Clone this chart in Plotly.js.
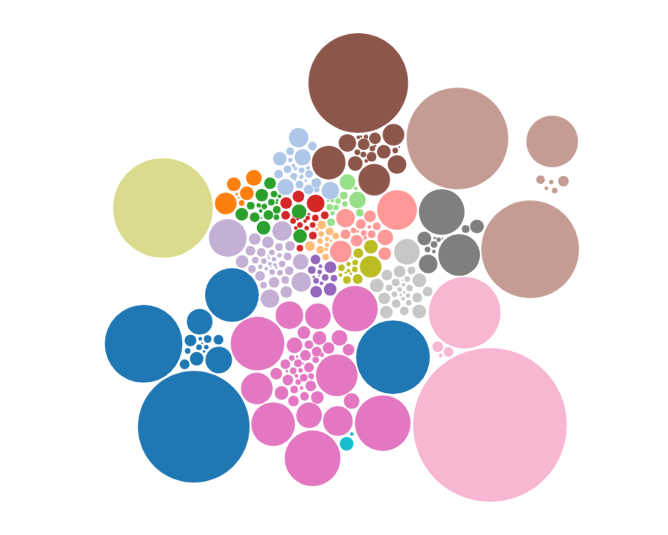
<!DOCTYPE html>
<html><head><meta charset="utf-8">
<script src="https://cdn.plot.ly/plotly-3.0.1.min.js"></script>
<style>html,body{margin:0;padding:0;background:#fff}</style>
</head><body><div id="chart" style="width:668px;height:535px"></div>
<script>
const blueValues = [3136,1521,729,182,169,49,36,25,25,16,9,9,6,4,2,1];
const lightBlueValues = [100,81,69,69,49,25,25,20,20,16,16,16,16,12,9,9,6,6,4,4,4,2,2,2,1];
const orangeValues = [121,64,49,49,9,2,1];
const lightOrangeValues = [25,20,16,16,12,12,9,9,6,6,4,4,2,1];
const greenValues = [56,49,49,42,42,36,25,25,16,16,12,12,9,9,6,4,4,2,2,1];
const lightGreenValues = [72,64,16,16,16,12,9,9,9,6,4,4,2,1];
const redValues = [81,36,36,20,16,16,12,12,9,9,9,6,6,4,4,2,2,1];
const lightRedValues = [400,121,90,64,42,36,36,25,25,16,16,9,9,4,4,2,1];
const purpleValues = [42,36,36,25,16,12,12,9,6,4,4,2,1];
const lightPurpleValues = [361,100,100,90,64,42,36,36,36,30,25,25,25,20,20,16,16,16,16,12,12,12,9,9,9,9,6,6,6,4,4,4,2,2,1,1];
const brownValues = [2500,289,256,121,90,81,56,49,36,36,25,9,9,9,9,6,4,4,2,2,1];
const roseValues = [2601,2401,676,30,20,9,6,4];
const pinkValues = [784,784,729,529,484,441,256,225,196,169,169,64,64,64,49,49,42,42,36,36,36,30,30,30,30,25,25,25,20,20,16,16,16,12,12,9,9,9,6,6,4,4,4,2,2,1,1];
const lightPinkValues = [5929,1296,30,25,4];
const grayValues = [529,441,90,49,49,16,12,9,6,4,2,1];
const lightGrayValues = [169,49,49,49,42,36,36,30,25,25,20,20,16,16,12,12,9,9,9,6,6,4,4,2,2,1];
const oliveValues = [121,49,25,25,16,12,9,9,6,4,4,2,2,1];
const khakiValues = [2500];
const cyanValues = [49,4];
const blue2Values = [1369];

const groups = [
 {name:'blue', values:blueValues, color:'#1f77b4'},
 {name:'lightblue', values:lightBlueValues, color:'#aec7e8'},
 {name:'orange', values:orangeValues, color:'#ff7f0e'},
 {name:'lightorange', values:lightOrangeValues, color:'#ffbb78'},
 {name:'green', values:greenValues, color:'#2ca02c'},
 {name:'lightgreen', values:lightGreenValues, color:'#98df8a'},
 {name:'red', values:redValues, color:'#d62728'},
 {name:'lightred', values:lightRedValues, color:'#ff9896'},
 {name:'purple', values:purpleValues, color:'#9467bd'},
 {name:'lightpurple', values:lightPurpleValues, color:'#c5b0d5'},
 {name:'brown', values:brownValues, color:'#8c564b'},
 {name:'rose', values:roseValues, color:'#c49c94'},
 {name:'pink', values:pinkValues, color:'#e377c2'},
 {name:'lightpink', values:lightPinkValues, color:'#f7b6d2'},
 {name:'gray', values:grayValues, color:'#7f7f7f'},
 {name:'lightgray', values:lightGrayValues, color:'#c7c7c7'},
 {name:'olive', values:oliveValues, color:'#bcbd22'},
 {name:'khaki', values:khakiValues, color:'#dbdb8d'},
 {name:'cyan', values:cyanValues, color:'#17becf'},
 {name:'blue2', values:blue2Values, color:'#1f77b4'}
];

// cluster layout parameters: core x, core y, rotation (deg), mirror, spread
const clusterLayout = {
 blue:[201,347,140,0,1], lightblue:[304,175,-134,1,1], orange:[241,196,-17,0,1], lightorange:[330,238,0,0,1],
 green:[272,208,-108,0,1], lightgreen:[340,205,-206,1,1], red:[304,220,-129,1,1], lightred:[362,232,-176,0,1],
 purple:[320,272,-171,0,1], lightpurple:[272,262,142,0,1], brown:[364,147,172,1,0.85], rose:[549,185,-52,0,1.23],
 pink:[311,369,110,1,1], lightpink:[459,344,27.5,0,1], gray:[450,238,195,1,1], lightgray:[402,288,63,0,1],
 olive:[350,262,188,1,1], khaki:[163,208,0,0,1], cyan:[347,441,108,0,1], blue2:[377,360,0,0,1]
};
const PAD = 1;

function place(b, a, c) {
  var dx = b.x - a.x, x, a2, dy = b.y - a.y, y, b2, d2 = dx*dx + dy*dy;
  if (d2) {
    a2 = a.r + c.r; a2 *= a2; b2 = b.r + c.r; b2 *= b2;
    if (a2 > b2) {
      x = (d2 + b2 - a2) / (2*d2); y = Math.sqrt(Math.max(0, b2/d2 - x*x));
      c.x = b.x - x*dx - y*dy; c.y = b.y - x*dy + y*dx;
    } else {
      x = (d2 + a2 - b2) / (2*d2); y = Math.sqrt(Math.max(0, a2/d2 - x*x));
      c.x = a.x + x*dx - y*dy; c.y = a.y + x*dy + y*dx;
    }
  } else { c.x = a.x + c.r; c.y = a.y; }
}
function intersects(a, b) { var dr = a.r + b.r - 1e-6, dx = b.x - a.x, dy = b.y - a.y; return dr > 0 && dr*dr > dx*dx + dy*dy; }
function score(node) { var a = node._, b = node.next._, ab = a.r + b.r, dx = (a.x*b.r + b.x*a.r)/ab, dy = (a.y*b.r + b.y*a.r)/ab; return dx*dx + dy*dy; }
function Node(c) { this._ = c; this.next = null; this.previous = null; }
function pack(circles) {
  var n = circles.length, a, b, c, aa, ca, i, j, k, sj, sk;
  if (!n) return;
  a = circles[0]; a.x = 0; a.y = 0; if (n < 2) return;
  b = circles[1]; a.x = -b.r; b.x = a.r; b.y = 0; if (n < 3) return;
  place(b, a, c = circles[2]);
  a = new Node(a); b = new Node(b); c = new Node(c);
  a.next = c.previous = b; b.next = a.previous = c; c.next = b.previous = a;
  pack: for (i = 3; i < n; ++i) {
    place(a._, b._, c = circles[i]); c = new Node(c);
    j = b.next; k = a.previous; sj = b._.r; sk = a._.r;
    do {
      if (sj <= sk) {
        if (intersects(j._, c._)) { b = j; a.next = b; b.previous = a; --i; continue pack; }
        sj += j._.r; j = j.next;
      } else {
        if (intersects(k._, c._)) { a = k; a.next = b; b.previous = a; --i; continue pack; }
        sk += k._.r; k = k.previous;
      }
    } while (j !== k.next);
    c.previous = a; c.next = b; a.next = b.previous = b = c;
    aa = score(a);
    while ((c = c.next) !== b) { if ((ca = score(c)) < aa) { a = c; aa = ca; } }
    b = a.next;
  }
}

const nodes = [];
groups.forEach((g, gi) => {
  const circles = g.values.slice().sort((p,q)=>p-q).map(v => ({v:v, r:Math.sqrt(v)+PAD}));
  pack(circles);
  const [cx, cy, rot, flip, spread] = clusterLayout[g.name];
  const t = rot*Math.PI/180, ct = Math.cos(t), st = Math.sin(t);
  circles.forEach(c => {
    const y0 = flip ? -c.y : c.y;
    const x = cx + spread*(c.x*ct - y0*st), y = cy + spread*(c.x*st + y0*ct);
    nodes.push({g:gi, v:c.v, r:Math.sqrt(c.v), x:x, y:y, tx:x, ty:y});
  });
});
// resolve overlaps, weighting moves by bubble area
for (let it = 0; it < 300; it++) {
  for (let i = 0; i < nodes.length; i++) {
    const a = nodes[i];
    for (let j = i+1; j < nodes.length; j++) {
      const b = nodes[j];
      const min = a.r + b.r + 2*PAD;
      let dx = b.x - a.x, dy = b.y - a.y;
      const d2 = dx*dx + dy*dy;
      if (d2 < min*min) {
        let d = Math.sqrt(d2) || 1e-3;
        const ov = (min - d);
        const wa = a.r*a.r, wb = b.r*b.r;
        const ka = wb/(wa+wb), kb = wa/(wa+wb);
        dx /= d; dy /= d;
        a.x -= dx*ov*ka; a.y -= dy*ov*ka;
        b.x += dx*ov*kb; b.y += dy*ov*kb;
      }
    }
  }
  nodes.forEach(n => { n.x += (n.tx - n.x)*0.02; n.y += (n.ty - n.y)*0.02; });
}

const traces = [];
groups.forEach((g, gi) => {
  const ns = nodes.filter(n => n.g === gi);
  traces.push({type:'scatter', mode:'markers', name:g.name, x:ns.map(n=>n.x), y:ns.map(n=>n.y), hoverinfo:'skip',
    marker:{size:ns.map(n=>2*n.r), sizemode:'diameter', color:g.color, opacity:1,
      line:{width:0.6, color:'rgba(255,255,255,0.5)'}}});
});

Plotly.newPlot('chart', traces, {
  width:668, height:535, margin:{l:0,r:0,t:0,b:0}, showlegend:false,
  paper_bgcolor:'#fff', plot_bgcolor:'#fff',
  xaxis:{range:[0,668], visible:false, fixedrange:true},
  yaxis:{range:[535,0], visible:false, fixedrange:true}
}, {staticPlot:true, displayModeBar:false});
</script></body></html>
